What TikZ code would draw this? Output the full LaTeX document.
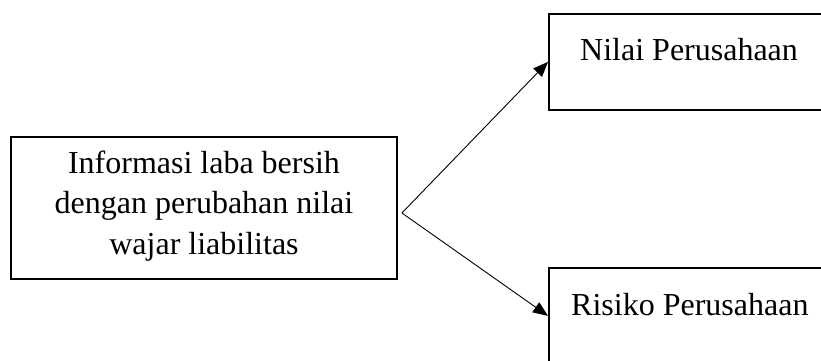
\documentclass[tikz,border=0pt]{standalone}
\usepackage{fontspec}
\setmainfont{Liberation Serif}
\usetikzlibrary{arrows.meta}
\begin{document}
\begin{tikzpicture}[x=1pt,y=-1pt,
  box/.style={draw,line width=1.8pt,rectangle,inner sep=0pt},
  txt/.style={font=\fontsize{32}{40.5}\selectfont,inner sep=0pt},
  arr/.style={line width=0.9pt,-{Triangle[length=15pt,width=12pt]}}]
\useasboundingbox (0,0) rectangle (821,361);
\clip (0,0) rectangle (821,361);
\node[box,minimum width=386pt,minimum height=142pt] (src) at (204,208) {};
\node[txt,align=center] (srct) at (204,206) {Informasi laba bersih\\dengan perubahan nilai\\wajar liabilitas};
\node[box,anchor=north west,minimum width=300pt,minimum height=96pt] (top) at (548,13) {};
\node[txt,anchor=base west] (topt) at (580,60) {Nilai Perusahaan};
\node[box,anchor=north west,minimum width=300pt,minimum height=96pt] (bot) at (548,267) {};
\node[txt,anchor=base west] (bott) at (571,315) {Risiko Perusahaan};
\coordinate (split) at ([xshift=4pt,yshift=-5pt]src.east);
\draw[arr] (split) -- (top.west);
\draw[arr] (split) -- (bot.west);
\end{tikzpicture}
\end{document}
